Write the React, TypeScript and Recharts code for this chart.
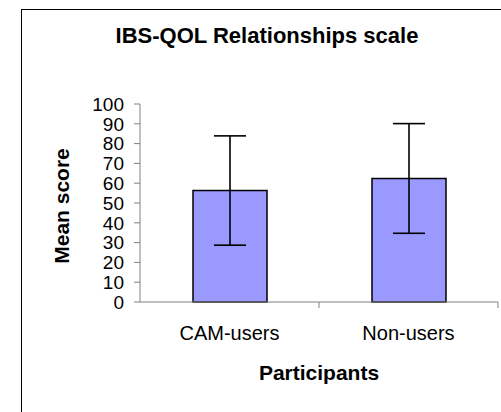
import React from "react"
import { BarChart, Bar, XAxis, YAxis, ErrorBar, Label } from "recharts"

const categories = ["CAM-users", "Non-users"]
const meanScores = [56.3, 62.4]
const errorRanges = [27.6, 27.7]
const yTicks = [0, 10, 20, 30, 40, 50, 60, 70, 80, 90, 100]

const data = categories.map((name, i) => ({
  name,
  mean: meanScores[i],
  err: errorRanges[i],
}))

const FONT = "'Liberation Sans', Arial, sans-serif"
const AXIS = "#808080"
const TICK_SIZE = 6
const TICK_MARGIN = 2

function CategoryTick(props: any) {
  const { x, y, payload } = props
  const axisY = y - TICK_SIZE - TICK_MARGIN
  const edge = x + (payload.offset ?? 0)
  return (
    <g>
      <line x1={edge} x2={edge} y1={axisY} y2={axisY + TICK_SIZE} stroke={AXIS} />
      <text x={x} y={axisY + 38} textAnchor="middle" fontSize={20} fill="#000" fontFamily={FONT}>
        {payload.value}
      </text>
    </g>
  )
}

export default function App() {
  return (
    <div style={{ position: "absolute", left: 0, top: 0, width: 501, height: 412, background: "#fff", overflow: "hidden" }}>
      <div
        style={{
          position: "absolute",
          left: 21,
          top: 9,
          width: 480,
          height: 420,
          borderLeft: "1px solid #000",
          borderTop: "1px solid #000",
          borderRight: "1px solid #000",
        }}
      />
      <div
        style={{
          position: "absolute",
          left: 0,
          width: 534,
          top: 24,
          textAlign: "center",
          fontFamily: FONT,
          fontWeight: "bold",
          fontSize: 22,
          lineHeight: "24px",
        }}
      >
        IBS-QOL Relationships scale
      </div>
      <div style={{ position: "absolute", left: 0, top: 0 }}>
        <BarChart width={501} height={412} data={data} margin={{ top: 104, right: 3, bottom: 80, left: 80 }} barSize={74}>
          <YAxis
            width={60}
            domain={[0, 100]}
            ticks={yTicks}
            interval={0}
            axisLine={{ stroke: AXIS }}
            tickLine={{ stroke: AXIS }}
            tickSize={TICK_SIZE}
            tickMargin={10}
            tick={{ fontSize: 19, fill: "#000", fontFamily: FONT }}
          >
            <Label
              content={({ viewBox }: any) => {
                const cx = 61
                const cy = viewBox.y + viewBox.height / 2 + 3
                return (
                  <text
                    x={cx}
                    y={cy}
                    transform={`rotate(-90, ${cx}, ${cy})`}
                    textAnchor="middle"
                    dominantBaseline="central"
                    fontSize={21}
                    fontWeight="bold"
                    fontFamily={FONT}
                    fill="#000"
                  >
                    Mean score
                  </text>
                )
              }}
            />
          </YAxis>
          <XAxis
            dataKey="name"
            height={30}
            axisLine={{ stroke: AXIS }}
            tickLine={false}
            tickSize={TICK_SIZE}
            tickMargin={TICK_MARGIN}
            tick={<CategoryTick />}
            interval={0}
          >
            <Label
              content={({ viewBox }: any) => (
                <text
                  x={viewBox.x + viewBox.width / 2}
                  y={380}
                  textAnchor="middle"
                  fontSize={21}
                  fontWeight="bold"
                  fontFamily={FONT}
                  fill="#000"
                >
                  Participants
                </text>
              )}
            />
          </XAxis>
          <Bar dataKey="mean" fill="#9999FF" stroke="#000" strokeWidth={1.5} isAnimationActive={false}>
            <ErrorBar dataKey="err" width={16} stroke="#000" strokeWidth={1.6} isAnimationActive={false} />
          </Bar>
        </BarChart>
      </div>
    </div>
  )
}
